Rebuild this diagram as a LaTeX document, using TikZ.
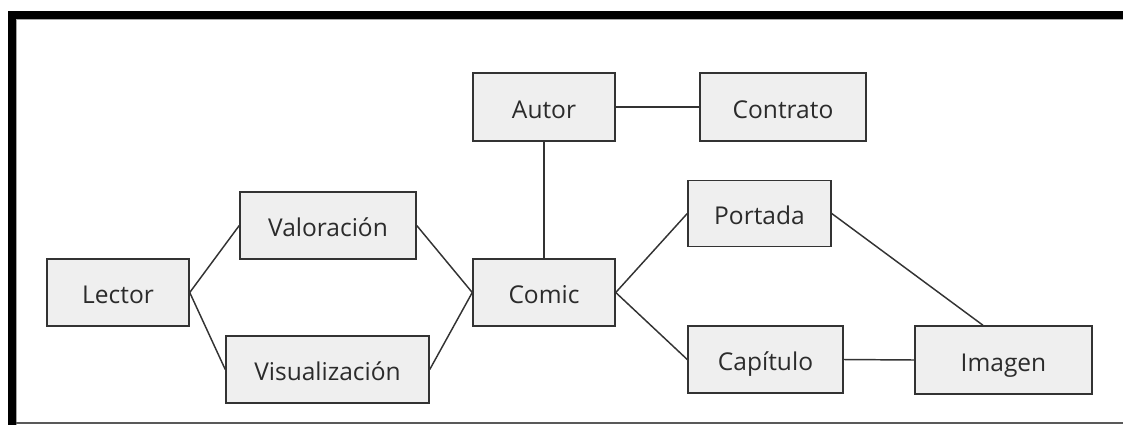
\documentclass[tikz,border=0pt]{standalone}
\usepackage{fontspec}
\setmainfont{Open Sans}
\usetikzlibrary{calc}
\definecolor{boxfill}{HTML}{EFEFEF}
\definecolor{boxline}{HTML}{333333}
\definecolor{txt}{HTML}{2B2B2B}
\begin{document}
\begin{tikzpicture}[x=0.75pt,y=-0.75pt,
  ebox/.style={draw=boxline,fill=boxfill,line width=1.1pt,inner sep=0pt,
    text=txt,font=\fontsize{18.4}{22}\selectfont,text height=17pt,text depth=0pt},
  conn/.style={draw=boxline,line width=1.1pt}]
\useasboundingbox (0,0) rectangle (1123,425);
% frame
\fill[black] (8,11) rectangle (1123,19);
\fill[black] (8,11) rectangle (16,425);
\draw[gray!70,line width=0.8pt] (16,19.6) -- (1123,19.6);
\draw[gray!70,line width=0.8pt] (16.6,19) -- (16.6,425);
\draw[black!65,line width=1.1pt] (16,423) -- (1123,423);
% nodes
\node[ebox,minimum width=142*0.75pt,minimum height=67*0.75pt] (lector) at (118,292.5) {Lector};
\node[ebox,minimum width=176*0.75pt,minimum height=67*0.75pt] (valor) at (328,225.5) {Valoración};
\node[ebox,minimum width=203*0.75pt,minimum height=67*0.75pt] (visual) at (327.5,369.5) {Visualización};
\node[ebox,minimum width=142*0.75pt,minimum height=68*0.75pt] (autor) at (544,107) {Autor};
\node[ebox,minimum width=166*0.75pt,minimum height=68*0.75pt] (contrato) at (783,107) {Contrato};
\node[ebox,minimum width=142*0.75pt,minimum height=67*0.75pt] (comic) at (544,292.5) {Comic};
\node[ebox,minimum width=143*0.75pt,minimum height=66*0.75pt] (portada) at (759.5,213.5) {Portada};
\node[ebox,minimum width=155*0.75pt,minimum height=67*0.75pt] (capitulo) at (765.5,359.5) {Capítulo};
\node[ebox,minimum width=177*0.75pt,minimum height=68*0.75pt] (imagen) at (1003.5,360) {Imagen};
\coordinate (imgtop) at ($(imagen.north west)!0.385!(imagen.north east)$);
% connectors
\draw[conn] (lector.east) -- (valor.west);
\draw[conn] (lector.east) -- (visual.west);
\draw[conn] (valor.east) -- (comic.west);
\draw[conn] (visual.east) -- (comic.west);
\draw[conn] (autor.south) -- (comic.north);
\draw[conn] (autor.east) -- (contrato.west);
\draw[conn] (comic.east) -- (portada.west);
\draw[conn] (comic.east) -- (capitulo.west);
\draw[conn] (capitulo.east) -- (imagen.west);
\draw[conn] (portada.east) -- (imgtop);
\end{tikzpicture}
\end{document}
